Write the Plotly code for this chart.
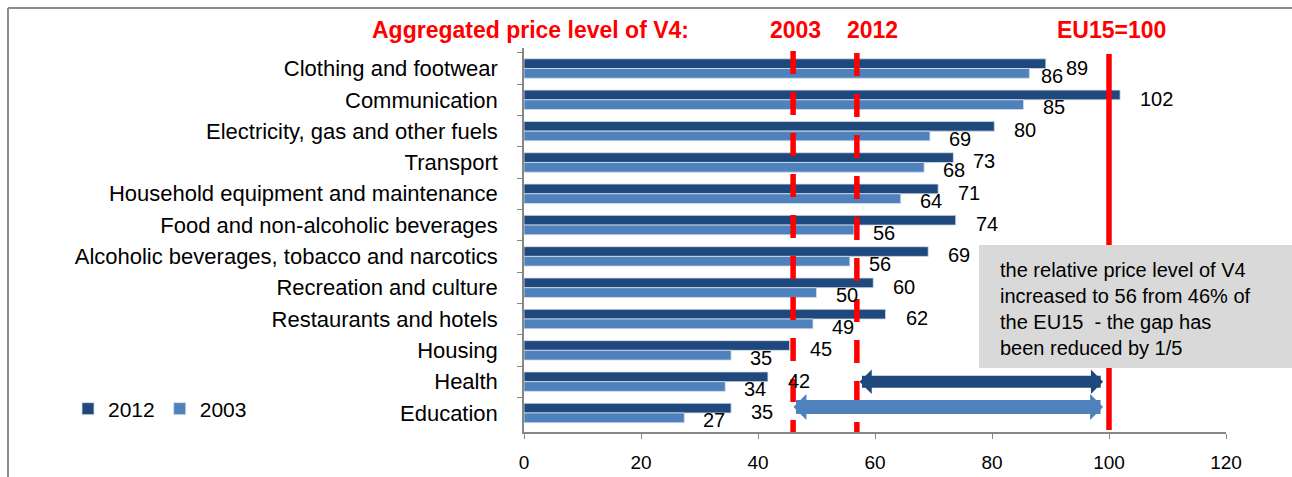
import plotly.graph_objects as go

# ---------------- data ----------------
categories = [
    "Clothing and footwear",
    "Communication",
    "Electricity, gas and other fuels",
    "Transport",
    "Household equipment and maintenance",
    "Food and non-alcoholic beverages",
    "Alcoholic beverages, tobacco and narcotics",
    "Recreation and culture",
    "Restaurants and hotels",
    "Housing",
    "Health",
    "Education",
]
values_2012 = [89.2, 101.9, 80.4, 73.4, 70.8, 73.8, 69.1, 59.7, 61.8, 45.4, 41.7, 35.4]
values_2003 = [86.4, 85.4, 69.4, 68.4, 64.4, 56.4, 55.7, 50.0, 49.4, 35.4, 34.4, 27.4]
labels_2012 = ["89", "102", "80", "73", "71", "74", "69", "60", "62", "45", "42", "35"]
labels_2003 = ["86", "85", "69", "68", "64", "56", "56", "50", "49", "35", "34", "27"]
series_names = ["2012", "2003"]
aggregate_2003 = 46
aggregate_2012 = 56.9
eu15_level = 100
x_ticks = [0, 20, 40, 60, 80, 100, 120]
box_text = ("the relative price level of V4<br>increased to 56 from 46% of<br>"
            "the EU15  - the gap has<br>been reduced by 1/5")

# ---------------- layout helpers ----------------
W, H = 1292, 477
L, R, T, B = 524, 66, 48, 45
PW, PH = W - L - R, H - T - B


def px(xp):
    return (xp - L) / PW


def py(yp):
    return 1 - (yp - T) / PH


DARK = "#1F497D"
LIGHT = "#4F81BD"
RED = "#FF0000"
FONT = "Liberation Sans, Arial, sans-serif"

# label pixel offsets (styling only)
shift_2012 = [18] * 12
shift_2003 = [10] + [17] * 11

fig = go.Figure()
fig.add_trace(go.Bar(
    name=series_names[0], y=categories, x=values_2012, orientation="h",
    marker=dict(color=DARK, line=dict(color="#D5DEEA", width=0.8)),
))
fig.add_trace(go.Bar(
    name=series_names[1], y=categories, x=values_2003, orientation="h",
    marker=dict(color=LIGHT, line=dict(color="#D5DEEA", width=0.8)),
))

annotations = []
# data labels
for cat, v, lab, s in zip(categories, values_2012, labels_2012, shift_2012):
    annotations.append(dict(x=v, y=cat, xref="x", yref="y", text=lab, showarrow=False,
                            xanchor="left", yanchor="middle", xshift=s, yshift=1,
                            font=dict(size=20, color="#000000", family=FONT)))
for cat, v, lab, s in zip(categories, values_2003, labels_2003, shift_2003):
    annotations.append(dict(x=v, y=cat, xref="x", yref="y", text=lab, showarrow=False,
                            xanchor="left", yanchor="middle", xshift=s, yshift=-7.5,
                            font=dict(size=20, color="#000000", family=FONT)))

# header texts
hdr_font = dict(size=23, color=RED, family=FONT)
for txt, xc in [("<b>Aggregated price level of V4:</b>", 530),
                ("<b>2003</b>", 795), ("<b>2012</b>", 872), ("<b>EU15=100</b>", 1111)]:
    annotations.append(dict(x=px(xc), y=py(30), xref="paper", yref="paper", text=txt,
                            showarrow=False, xanchor="center", yanchor="middle", font=hdr_font))

# note box text
annotations.append(dict(x=px(998), y=py(309), xref="paper", yref="paper", text=box_text,
                        showarrow=False, xanchor="left", yanchor="middle", align="left",
                        font=dict(size=20, color="#000000", family=FONT)))

# gap arrows
annotations.append(dict(x=99.0, y=categories[10], ax=57.1, ay=categories[10],
                        xref="x", yref="y", axref="x", ayref="y", text="",
                        showarrow=True, arrowside="end+start", arrowhead=1, startarrowhead=1,
                        arrowsize=0.34, startarrowsize=0.34, arrowwidth=12, arrowcolor=DARK))
annotations.append(dict(x=99.0, y=categories[11], ax=45.8, ay=categories[11],
                        xref="x", yref="y", axref="x", ayref="y", text="", yshift=6,
                        showarrow=True, arrowside="end+start", arrowhead=1, startarrowhead=1,
                        arrowsize=0.31, startarrowsize=0.31, arrowwidth=14, arrowcolor=LIGHT))

shapes = [
    # outer chart border (top and left edges; the rest lies outside the picture)
    dict(type="line", xref="paper", yref="paper", x0=px(8), x1=1.2, y0=py(8), y1=py(8),
         line=dict(color="#8C8C8C", width=2), layer="above"),
    dict(type="line", xref="paper", yref="paper", x0=px(8), x1=px(8), y0=py(8), y1=-0.3,
         line=dict(color="#8C8C8C", width=2), layer="above"),
    # aggregated level lines
    dict(type="line", xref="x", yref="paper", x0=aggregate_2003, x1=aggregate_2003,
         y0=py(51), y1=py(432), line=dict(color=RED, width=5.5, dash="23px,18px"), layer="above"),
    dict(type="line", xref="x", yref="paper", x0=aggregate_2012, x1=aggregate_2012,
         y0=py(53), y1=py(432), line=dict(color=RED, width=5.5, dash="23px,18px"), layer="above"),
    dict(type="line", xref="x", yref="paper", x0=eu15_level, x1=eu15_level,
         y0=py(54), y1=py(430), line=dict(color=RED, width=5.5), layer="above"),
    # note box
    dict(type="rect", xref="paper", yref="paper", x0=px(979), x1=1.2, y0=py(368), y1=py(245),
         line=dict(width=0), fillcolor="#D9D9D9", layer="above"),
]

fig.update_layout(
    width=W, height=H,
    margin=dict(l=L, r=R, t=T, b=B, autoexpand=False),
    paper_bgcolor="white", plot_bgcolor="white",
    barmode="group", bargap=0.38, bargroupgap=0,
    font=dict(family=FONT, color="#000000"),
    showlegend=True,
    legend=dict(orientation="h", x=px(68), y=py(409), xanchor="left", yanchor="middle",
                font=dict(size=21, family=FONT, color="#000000"), bgcolor="rgba(0,0,0,0)",
                traceorder="normal"),
    annotations=annotations,
    shapes=shapes,
)
fig.update_xaxes(range=[0, 120], tickvals=x_ticks, ticks="outside", ticklen=5,
                 tickcolor="#868686", showline=True, linecolor="#868686", linewidth=1.5,
                 showgrid=False, zeroline=False, automargin=False, ticklabelstandoff=7,
                 tickfont=dict(size=19, family=FONT, color="#000000"))
fig.update_yaxes(categoryorder="array", categoryarray=categories, autorange="reversed",
                 ticks="outside", ticklen=5, tickcolor="#868686", tickson="boundaries",
                 showline=True, linecolor="#868686", linewidth=1.5, showgrid=False,
                 automargin=False, ticklabelstandoff=20,
                 tickfont=dict(size=22, family=FONT, color="#000000"))

fig.write_html("out.html", config={"displayModeBar": False},
               post_script="document.body.style.margin='0';document.body.style.overflow='hidden';")
